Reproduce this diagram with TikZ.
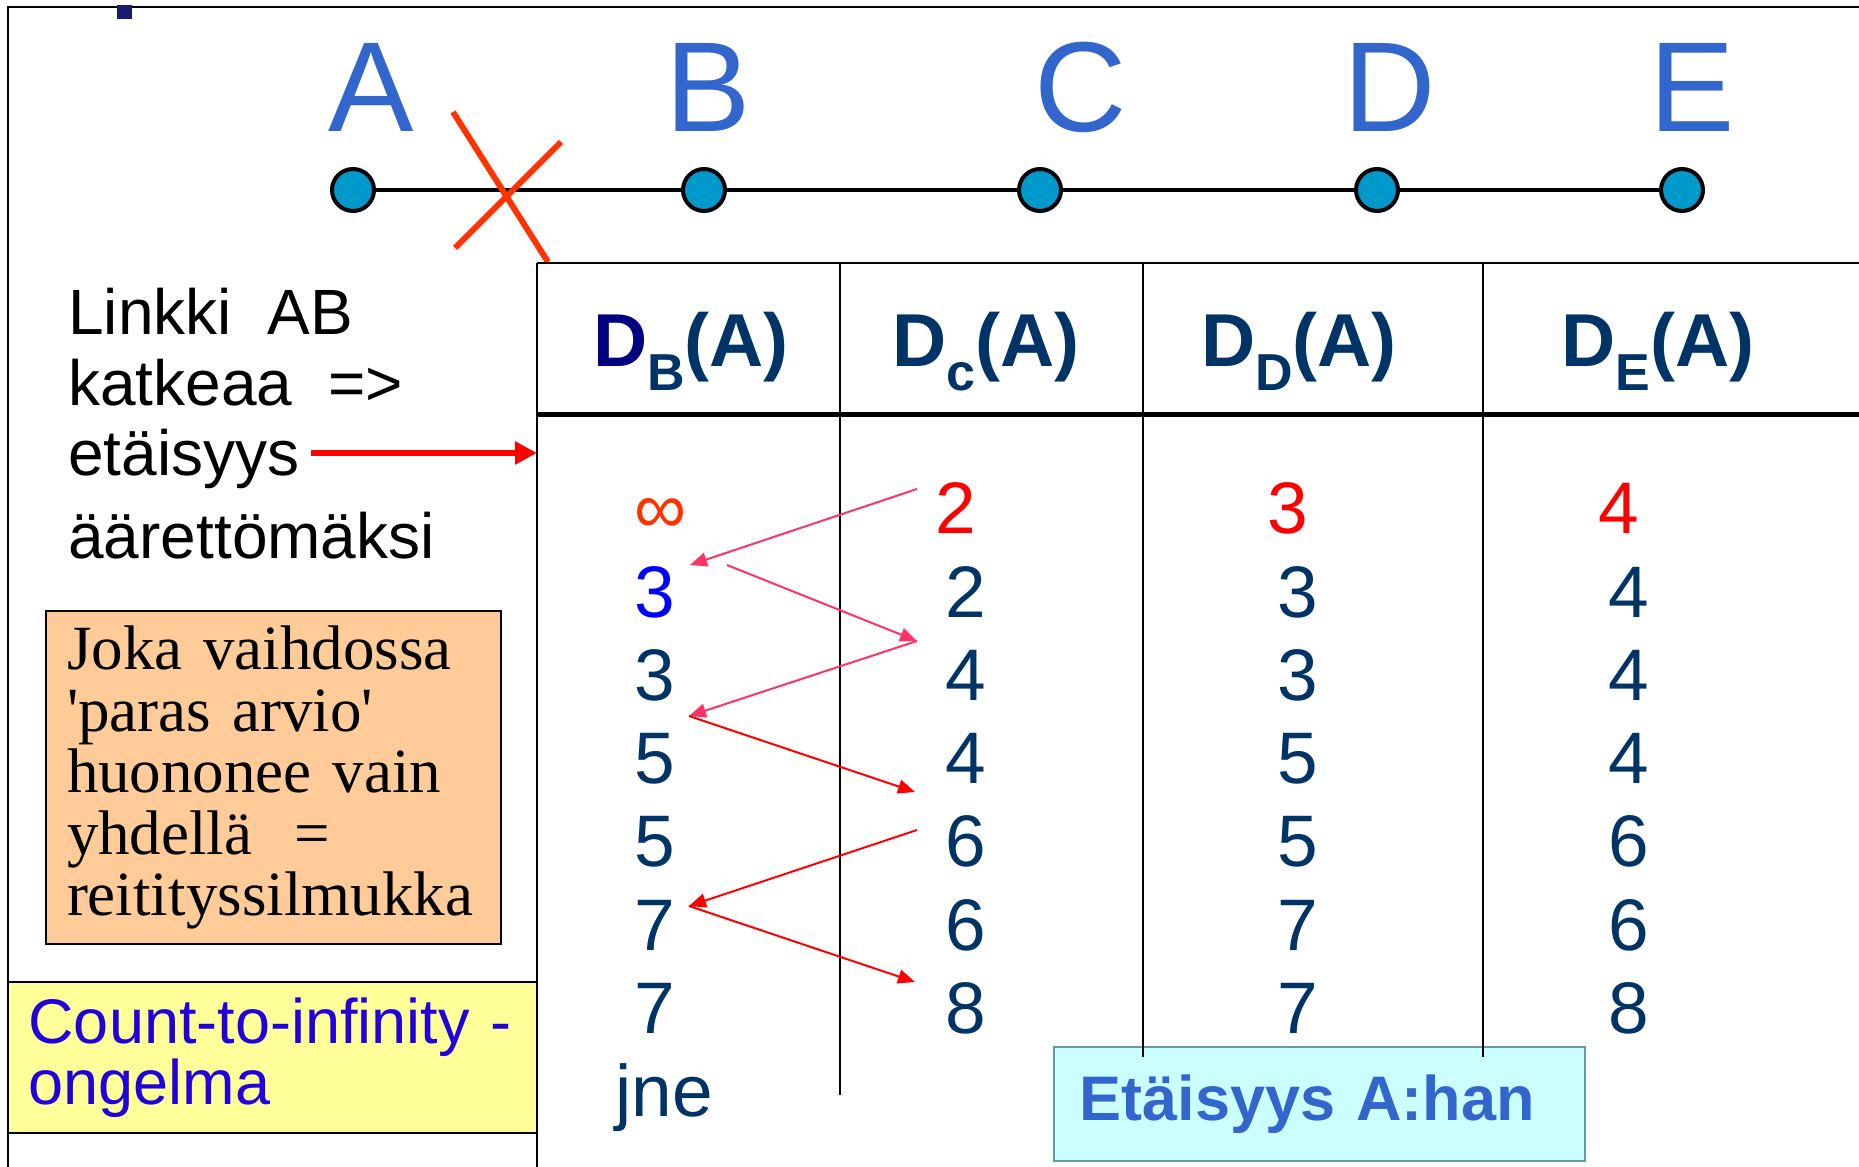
\documentclass[tikz,border=0pt]{standalone}
\usepackage{fontspec}
\setmainfont{Liberation Sans}
\newfontfamily\timesfont{Liberation Serif}
\usetikzlibrary{arrows.meta}
\definecolor{nodeblue}{HTML}{0099CC}
\definecolor{labelblue}{HTML}{3366CC}
\definecolor{navy}{HTML}{003366}
\definecolor{deepnavy}{HTML}{000080}
\definecolor{crossred}{HTML}{FF3300}
\definecolor{arrowpink}{HTML}{FF3366}
\definecolor{notefill}{HTML}{FFCC99}
\definecolor{probfill}{HTML}{FFFF99}
\definecolor{probtext}{HTML}{2200DD}
\definecolor{distfill}{HTML}{CCFFFF}
\definecolor{distline}{HTML}{6699AA}
\definecolor{markblue}{HTML}{1A1A6E}
\newcommand{\hsub}[1]{\raisebox{-12pt}{\fontsize{26}{26}\selectfont #1}}

\begin{document}
\begin{tikzpicture}[x=0.5pt, y=-0.5pt,
    router/.style={circle, draw, line width=2pt, fill=nodeblue, minimum size=21pt, inner sep=0pt},
    rlabel/.style={anchor=base, inner sep=0pt, text=labelblue, font=\fontsize{64}{64}\selectfont},
    head/.style={anchor=base, inner sep=0pt, text=navy, font=\bfseries\fontsize{37.5}{40}\selectfont},
    num/.style={anchor=base, inner sep=0pt, text=navy, font=\fontsize{36.5}{40}\selectfont},
    newnum/.style={num, text=red},
    hop/.style={-{Triangle[length=8.5pt,width=7pt]}, line width=1pt, arrowpink},
    hopred/.style={hop, red}]
    \path[use as bounding box] (0,0) rectangle (1859,1167);
    \draw[line width=1pt] (1859,7) -- (8,7) -- (8,1167);
    \fill[markblue] (117,5) rectangle (132,19);

    \node[router] (A) at (353,190) {};
    \node[router] (B) at (704,190) {};
    \node[router] (C) at (1040,190) {};
    \node[router] (D) at (1377,190) {};
    \node[router] (E) at (1682,190) {};
    \draw[line width=2pt] (A) -- (B) -- (C) -- (D) -- (E);

    \node[rlabel] (lA) at (371,131) {A};
    \node[rlabel] (lB) at (708,131) {B};
    \node[rlabel] (lC) at (1081,131) {C};
    \node[rlabel] (lD) at (1390,131) {D};
    \node[rlabel] (lE) at (1692,131) {E};

    \draw[crossred, line width=3pt] (453,112) -- (548,262);
    \draw[crossred, line width=3pt] (561,142) -- (455,248);

    \node[anchor=base west, inner sep=0pt, align=left, font=\fontsize{32}{35.25}\selectfont] (cut) at (68,558)
        {Linkki\ \ AB\\katkeaa\ \ =>\\etäisyys\\[6pt]äärettömäksi};
    \coordinate (cutS) at (311,453);
    \coordinate (cutE) at (537,453);
    \draw[-{Triangle[length=11pt,width=11pt]}, line width=3pt, red] (cutS) -- (cutE);

    \node[draw, line width=1pt, fill=notefill, minimum width=227.5pt, minimum height=166.5pt, text width=206.5pt,
        inner xsep=10.5pt, inner ysep=0pt, align=left, font=\timesfont\fontsize{31.5}{30.75}\selectfont] (note) at (273.5,777.5)
        {Joka vaihdossa\\\textquotesingle paras arvio\textquotesingle\\huononee vain\\yhdellä\ \ =\\reitityssilmukka};
    \node[draw, line width=1pt, fill=probfill, minimum width=264.5pt, minimum height=75.5pt, text width=244pt,
        inner xsep=10.25pt, inner ysep=0pt, align=left, text=probtext, font=\fontsize{31.5}{30.5}\selectfont] (prob) at (272.5,1057.5)
        {\mbox{Count-to-infinity -}\\ongelma};
    \node[draw=distline, line width=1.2pt, fill=distfill, minimum width=265.5pt, minimum height=57pt, text width=240pt,
        inner xsep=12.75pt, inner ysep=0pt, align=left, text=labelblue, font=\bfseries\fontsize{31.5}{34}\selectfont] (dist) at (1319.5,1104)
        {Etäisyys A:han};

    \draw[line width=1pt] (537,263) -- (1859,263);
    \draw[line width=2.5pt] (537,414) -- (1859,414);
    \draw[line width=0.75pt] (537,263) -- (537,1167);
    \draw[line width=0.75pt] (840,263) -- (840,1095);
    \draw[line width=0.75pt] (1143,263) -- (1143,1057);
    \draw[line width=0.75pt] (1483,263) -- (1483,1057);

    \node[head] (hB) at (691,366) {\textcolor{deepnavy}{D}\hsub{B}(A)};
    \node[head] (hC) at (986,366) {D\hsub{c}(A)};
    \node[head] (hD) at (1299,366) {D\hsub{D}(A)};
    \node[head] (hE) at (1658,366) {D\hsub{E}(A)};

    \node[num, text=crossred] (b1) at (661,533) {∞};
    \node[num, text=blue] (b2) at (655,617) {3};
    \node[num] (b3) at (655,700) {3};
    \node[num] (b4) at (655,783) {5};
    \node[num] (b5) at (655,866) {5};
    \node[num] (b6) at (655,950) {7};
    \node[num] (b7) at (655,1033) {7};
    \node[num] (b8) at (664,1116) {jne};

    \node[newnum] (c1) at (956,533) {2};
    \node[num] (c2) at (966,617) {2};
    \node[num] (c3) at (966,700) {4};
    \node[num] (c4) at (966,783) {4};
    \node[num] (c5) at (966,866) {6};
    \node[num] (c6) at (966,950) {6};
    \node[num] (c7) at (966,1033) {8};

    \node[newnum] (d1) at (1288,533) {3};
    \node[num] (d2) at (1298,617) {3};
    \node[num] (d3) at (1298,700) {3};
    \node[num] (d4) at (1298,783) {5};
    \node[num] (d5) at (1298,866) {5};
    \node[num] (d6) at (1298,950) {7};
    \node[num] (d7) at (1298,1033) {7};

    \node[newnum] (e1) at (1619,533) {4};
    \node[num] (e2) at (1629,617) {4};
    \node[num] (e3) at (1629,700) {4};
    \node[num] (e4) at (1629,783) {4};
    \node[num] (e5) at (1629,866) {6};
    \node[num] (e6) at (1629,950) {6};
    \node[num] (e7) at (1629,1033) {8};

    \coordinate (z1) at (917,489);
    \coordinate (z2) at (690,565);
    \coordinate (z3) at (727,565);
    \coordinate (z4) at (917,641);
    \coordinate (z5) at (689,716);
    \coordinate (z6) at (915,792);
    \coordinate (z7) at (917,830);
    \coordinate (z8) at (689,906);
    \coordinate (z9) at (915,982);
    \draw[hop] (z1) -- (z2);
    \draw[hop] (z3) -- (z4);
    \draw[hop] (z4) -- (z5);
    \draw[hopred] (z5) -- (z6);
    \draw[hopred] (z7) -- (z8);
    \draw[hopred] (z8) -- (z9);
\end{tikzpicture}
\end{document}
